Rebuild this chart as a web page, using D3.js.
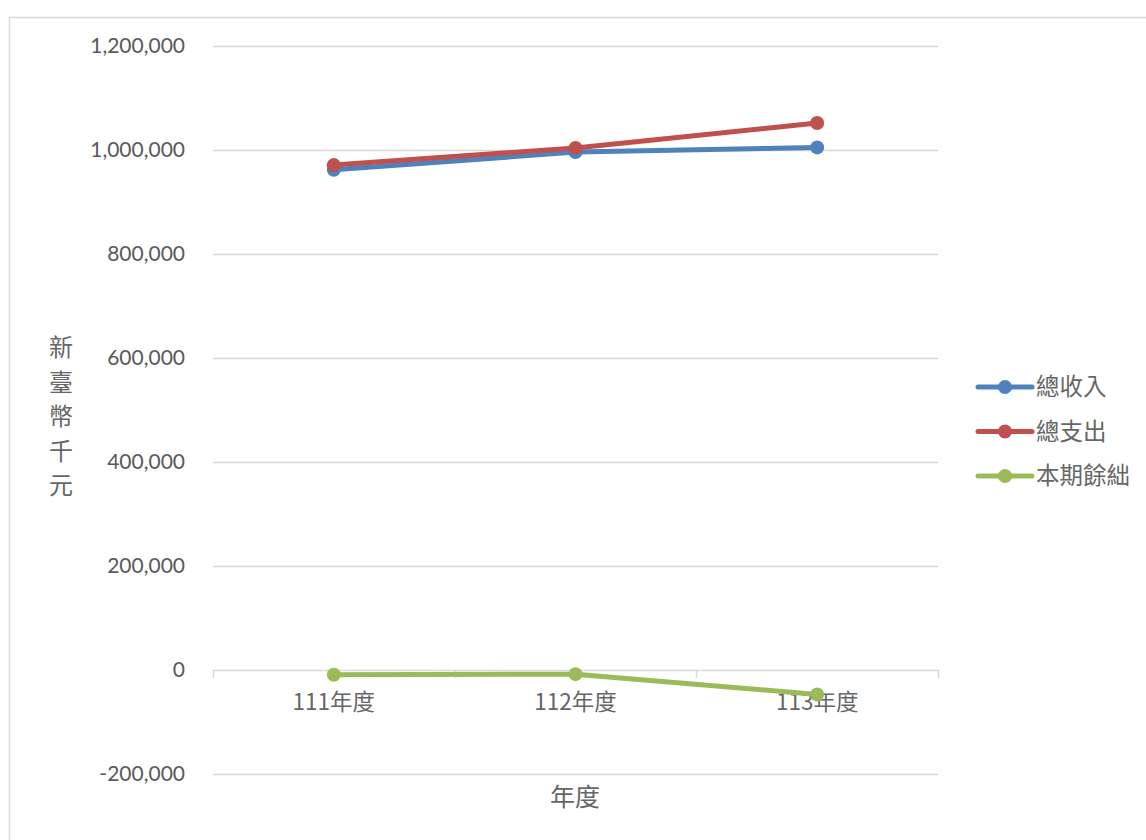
<!DOCTYPE html>
<html>
<head>
<meta charset="utf-8">
<script src="https://cdn.jsdelivr.net/npm/d3@7"></script>
<style>
  body { margin: 0; background: #fff; }
  svg { display: block; }
</style>
</head>
<body>
<svg id="chart" width="1146" height="840"></svg>
<script>
// ---- data ----
const years = ['111年度', '112年度', '113年度'];
const income = [962000, 996000, 1005000];
const expense = [971000, 1004000, 1052000];
const balance = [-9000, -8000, -47000];
const seriesNames = ['總收入', '總支出', '本期餘絀'];
const yTicks = [-200000, 0, 200000, 400000, 600000, 800000, 1000000, 1200000];

const colors = ['#4F81BD', '#C0504D', '#9BBB59'];
const series = [income, expense, balance];
const latinFont = 'Lato, "Open Sans", sans-serif';
const cjkFont = '"Noto Sans CJK TC", "Noto Sans CJK SC", sans-serif';
const fmt = d => d3.format(',')(d).replace('−', '-');

const svg = d3.select('#chart');

// outer border
svg.append('rect')
  .attr('x', 9.5).attr('y', 17.5)
  .attr('width', 1160).attr('height', 860)
  .attr('fill', 'none')
  .attr('stroke', '#d9d9d9')
  .attr('stroke-width', 1.5);

const x = d3.scaleBand().domain(years).range([213, 938]);
const y = d3.scaleLinear().domain([-200000, 1200000]).range([774, 46]);

// gridlines
svg.append('g')
  .selectAll('line')
  .data(yTicks)
  .join('line')
  .attr('x1', 213).attr('x2', 938)
  .attr('y1', d => Math.round(y(d)) + 0.5)
  .attr('y2', d => Math.round(y(d)) + 0.5)
  .attr('stroke', '#d9d9d9')
  .attr('stroke-width', 1.5);

// y labels
svg.append('g')
  .selectAll('text')
  .data(yTicks)
  .join('text')
  .attr('x', 185)
  .attr('y', d => y(d))
  .attr('dy', '0.35em')
  .attr('text-anchor', 'end')
  .attr('font-family', latinFont)
  .attr('font-size', '21px')
  .attr('fill', '#595959')
  .text(fmt);

// category tick marks on zero line
const bounds = years.map(d => x(d)).concat([x.range()[1]]);
svg.append('g')
  .selectAll('line')
  .data(bounds)
  .join('line')
  .attr('x1', d => Math.round(d) + 0.5).attr('x2', d => Math.round(d) + 0.5)
  .attr('y1', y(0)).attr('y2', y(0) + 8)
  .attr('stroke', '#d9d9d9')
  .attr('stroke-width', 1.5);

// category labels
svg.append('g')
  .selectAll('text')
  .data(years)
  .join('text')
  .attr('x', d => x(d) + x.bandwidth() / 2)
  .attr('y', 702)
  .attr('dy', '0.35em')
  .attr('text-anchor', 'middle')
  .attr('font-family', cjkFont)
  .attr('font-size', '22.5px')
  .attr('fill', '#666')
  .text(d => d);

// lines + markers
const line = d3.line()
  .x((d, i) => x(years[i]) + x.bandwidth() / 2)
  .y(d => y(d));

series.forEach((vals, s) => {
  svg.append('path')
    .datum(vals)
    .attr('d', line)
    .attr('fill', 'none')
    .attr('stroke', colors[s])
    .attr('stroke-width', 5)
    .attr('stroke-linejoin', 'round');
  svg.append('g')
    .selectAll('circle')
    .data(vals)
    .join('circle')
    .attr('cx', (d, i) => x(years[i]) + x.bandwidth() / 2)
    .attr('cy', d => y(d))
    .attr('r', 7)
    .attr('fill', colors[s]);
});

// y axis title (vertical characters)
const yTitle = '新臺幣千元'.split('');
svg.append('g')
  .selectAll('text')
  .data(yTitle)
  .join('text')
  .attr('x', 61)
  .attr('y', (d, i) => 348 + i * 34.5)
  .attr('dy', '0.35em')
  .attr('text-anchor', 'middle')
  .attr('font-family', cjkFont)
  .attr('font-size', '24px')
  .attr('fill', '#666')
  .text(d => d);

// x axis title
svg.append('text')
  .attr('x', 575)
  .attr('y', 797)
  .attr('dy', '0.35em')
  .attr('text-anchor', 'middle')
  .attr('font-family', cjkFont)
  .attr('font-size', '25px')
  .attr('fill', '#666')
  .text('年度');

// legend
const legend = svg.append('g')
  .selectAll('g')
  .data(seriesNames)
  .join('g')
  .attr('transform', (d, i) => `translate(978, ${387 + i * 44.5})`);
legend.append('line')
  .attr('x1', 0).attr('x2', 54)
  .attr('stroke', (d, i) => colors[i])
  .attr('stroke-width', 5)
  .attr('stroke-linecap', 'round');
legend.append('circle')
  .attr('cx', 27).attr('r', 7)
  .attr('fill', (d, i) => colors[i]);
legend.append('text')
  .attr('x', 58)
  .attr('dy', '0.35em')
  .attr('font-family', cjkFont)
  .attr('font-size', '23.5px')
  .attr('fill', '#666')
  .text(d => d);
</script>
</body>
</html>
